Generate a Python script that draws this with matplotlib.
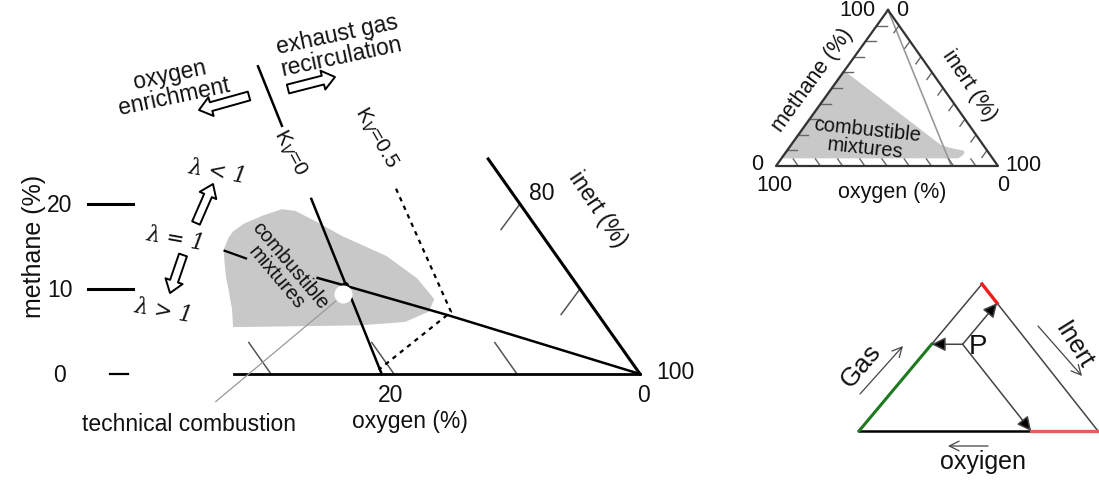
import numpy as np
import matplotlib
matplotlib.use('Agg')
import matplotlib.pyplot as plt
from matplotlib.patches import Polygon, FancyArrowPatch

plt.rcParams['font.family'] = ['Liberation Sans', 'DejaVu Sans']

# ---------------- data: main diagram (methane %, oxygen %) ----------------
methane_ticks = [0, 10, 20]
oxygen_ticks = [10, 20, 30]
inert_tick_methane = [10, 20]          # inert = 90 %, 80 %
oxygen_axis_max = 33.0
inert_axis_methane_max = 25.3
air_o2 = 21.0                          # K_V = 0 line: O2 share of (O2+inert)
kv0_lower_methane = [0.0, 20.6]
kv0_upper_methane = [29.2, 36.2]
kv05_methane = [21.8, 7.3, 0.5]
kv05_oxygen = [9.2, 11.8, 21.0]
lambda1_methane = [0.0, 6.9, 10.5, 11.3]
lambda1_oxygen = [0.0, 12.2, 19.1, 20.7]
lambda1_dash_methane = [13.6, 14.5]
lambda1_dash_oxygen = [25.4, 26.7]
comb_methane = [14.7, 16.0, 16.7, 17.6, 18.6, 19.3, 19.1, 17.8, 16.2, 13.8, 11.2,
                8.8, 7.4, 6.2, 5.8, 5.6, 7.6, 9.8, 11.5, 13.4]
comb_oxygen = [26.6, 25.6, 24.9, 23.6, 21.5, 19.7, 18.7, 17.6, 16.4, 13.9, 12.7,
               12.5, 13.6, 16.1, 20.0, 30.3, 29.4, 28.6, 28.0, 27.2]
kv0_point = (10.5, 18.9)
technical_point = (9.4, 19.6)

# ---------------- data: inset 1 (methane %, oxygen %) ----------------
inset_ticks = [10, 20, 30, 40, 50, 60, 70, 80, 90]
inset_comb_methane = [60.3, 5.8, 5.8, 7.5, 9.0, 11.0, 12.8, 60.3]
inset_comb_oxygen = [39.7, 94.2, 15.2, 12.5, 11.3, 17.0, 19.8, 39.7]
inset_air_line_methane = [100, 0]
inset_air_line_oxygen = [0, 21]

# ---------------- data: inset 2 (gas %, oxygen %, inert %) ----------------
P_gas, P_oxygen, P_inert = 59, 28, 13

# ---------------- geometry helpers (layout) ----------------
def main_xy(m, o):
    m = np.asarray(m, float)
    o = np.asarray(o, float)
    return 640 - 12.3 * o - 6.0 * m, 375 - 8.5 * m

T1, L1, R1 = np.array([888, 11.]), np.array([776, 167.]), np.array([998, 167.])
def ins1_xy(m, o):
    m = np.asarray(m, float); o = np.asarray(o, float); i = 100 - m - o
    x = (m * T1[0] + o * L1[0] + i * R1[0]) / 100
    y = (m * T1[1] + o * L1[1] + i * R1[1]) / 100
    return x, y

T2, L2, R2 = np.array([982, 285.]), np.array([859, 432.]), np.array([1098, 432.])
def ins2_xy(g, o, i):
    x = (g * T2[0] + o * L2[0] + i * R2[0]) / 100
    y = (g * T2[1] + o * L2[1] + i * R2[1]) / 100
    return x, y

fig = plt.figure(figsize=(10.99, 4.81), dpi=100)
ax = fig.add_axes([0, 0, 1, 1])
ax.set_xlim(0, 1099)
ax.set_ylim(481, 0)
ax.axis('off')

FS = 16.5
def txt(x, y, s, fs=FS, rot=0, **kw):
    ax.text(x, y, s, fontsize=fs, rotation=rot, ha=kw.pop('ha', 'center'),
            va=kw.pop('va', 'center'), rotation_mode='anchor', color='#111111', **kw)

GREY = '#c8c8c8'
# ---------------- main diagram ----------------
cx, cy = main_xy(comb_methane, comb_oxygen)
ax.add_patch(Polygon(np.column_stack([cx, cy]), closed=True, fc=GREY, ec=GREY,
                     lw=1, joinstyle='round', zorder=1))

# oxygen axis (methane = 0)
x, y = main_xy([0, 0], [0, oxygen_axis_max])
ax.plot(x, y, color='black', lw=2, zorder=3)
# inert axis (oxygen = 0)
x, y = main_xy([0, inert_axis_methane_max], [0, 0])
ax.plot(x, y, color='black', lw=2.2, zorder=3)
# oxygen ticks
for t in oxygen_ticks:
    x, y = main_xy([0, 3.7], [t, t])
    ax.plot(x, y, color='#555555', lw=1.1, zorder=2)
# inert ticks
for t in inert_tick_methane:
    x, y = main_xy([t, t - 3.0], [0, 3.0])
    ax.plot(x, y, color='#555555', lw=1.1, zorder=2)

# K_V = 0 line (air)
for seg in (kv0_lower_methane, kv0_upper_methane):
    m = np.array(seg)
    x, y = main_xy(m, air_o2 * (100 - m) / 100)
    ax.plot(x, y, color='black', lw=1.8, zorder=3)
# K_V = 0.5 dotted line
x, y = main_xy(kv05_methane, kv05_oxygen)
ax.plot(x, y, color='black', lw=1.6, ls=(0, (2, 2.2)), zorder=3)
# lambda = 1 line
x, y = main_xy(lambda1_methane, lambda1_oxygen)
ax.plot(x, y, color='black', lw=1.8, zorder=3)
x, y = main_xy(lambda1_dash_methane, lambda1_dash_oxygen)
ax.plot(x, y, color='black', lw=1.6, zorder=3)
# intersection dot
x, y = main_xy(*kv0_point)
ax.plot(x, y, 'o', color='black', ms=4, zorder=4)
# technical combustion point
tx, ty = main_xy(*technical_point)
ax.plot(tx, ty, 'o', mfc='white', mec='white', ms=12, zorder=5)
ax.annotate('technical combustion', xy=(tx - 2, ty + 3), xytext=(189, 425),
            fontsize=FS, ha='center', va='center', color='#111111',
            arrowprops=dict(arrowstyle='-', color='#999999', lw=0.9,
                            shrinkA=9, shrinkB=0), zorder=4)

# methane scale (left)
for t in methane_ticks:
    _, y = main_xy(t, 0)
    if t == 0:
        ax.plot([110, 128], [y, y], color='black', lw=1.6)
    else:
        ax.plot([88, 133], [y, y], color='black', lw=2.2)
    txt(60, y + 1, str(t))
txt(34, 246, 'methane (%)', fs=18, rot=90)

# axis labels / numbers
txt(391, 396, '20')
txt(410, 422, 'oxygen (%)')
txt(643, 396, '0')
txt(675, 373, '100')
txt(542, 194, '80')
txt(598, 209, 'inert (%)', rot=-56)

txt(290, 153, r'K$_V$=0', fs=15, rot=-62)
txt(376, 138, r'K$_V$=0.5', fs=15, rot=-60)
txt(283, 272, 'combustible\nmixtures', fs=14.5, rot=-50, linespacing=0.95)

txt(172, 86, 'oxygen\nenrichment', rot=12, linespacing=0.95)
txt(339, 46, 'exhaust gas\nrecirculation', rot=12, linespacing=0.95)

lam_kw = dict(fs=15.5, style='italic', family=['DejaVu Serif'])
txt(218, 172, 'λ < 1', rot=-10, **lam_kw)
txt(176, 239, 'λ = 1', rot=-10, **lam_kw)
txt(164, 311, 'λ > 1', rot=-10, **lam_kw)

def hollow(p0, p1, hl=8, hw=12, tw=5.5):
    ax.add_patch(FancyArrowPatch(p0, p1, arrowstyle=f'simple,head_length={hl},head_width={hw},tail_width={tw}',
                                 mutation_scale=1, fc='white', ec='black', lw=1.4,
                                 shrinkA=0, shrinkB=0, zorder=4))
hollow((196, 224), (213, 185), hl=9, hw=13, tw=6)
hollow((183, 256), (170, 294), hl=9, hw=13, tw=6)
hollow((249, 97), (199, 111), hl=9, hw=14, tw=6.5)
hollow((288, 90), (335, 78), hl=9, hw=14, tw=6.5)

# ---------------- inset 1 ----------------
ix, iy = ins1_xy(inset_comb_methane, inset_comb_oxygen)
ax.add_patch(Polygon(np.column_stack([ix, iy]), closed=True, fc=GREY, ec=GREY,
                     lw=2, joinstyle='round', zorder=1))
tri = np.array([T1, L1, R1, T1])
ax.plot(tri[:, 0], tri[:, 1], color='#333333', lw=1.6, zorder=3)
x, y = ins1_xy(inset_air_line_methane, inset_air_line_oxygen)
ax.plot(x, y, color='#999999', lw=1.2, zorder=2)
tl = 4.5
for t in inset_ticks:
    # methane ticks on left edge (inert = 0), along constant methane
    x, y = ins1_xy([t, t], [100 - t, 100 - t - tl])
    ax.plot(x, y, color='#666666', lw=1, zorder=2)
    # oxygen ticks on bottom edge (methane = 0), along constant oxygen
    x, y = ins1_xy([0, tl], [t, t])
    ax.plot(x, y, color='#666666', lw=1, zorder=2)
    # inert ticks on right edge (oxygen = 0), along constant inert
    x, y = ins1_xy([100 - t, 100 - t - tl], [0, tl])
    ax.plot(x, y, color='#666666', lw=1, zorder=2)
IFS = 15.5
txt(857, 10, '100', fs=IFS)
txt(902, 10, '0', fs=IFS)
txt(757, 165, '0', fs=IFS)
txt(774, 186, '100', fs=IFS)
txt(1023, 166, '100', fs=IFS)
txt(1003, 186, '0', fs=IFS)
txt(892, 193, 'oxygen (%)', fs=IFS)
txt(813, 80, 'methane (%)', fs=IFS, rot=54)
txt(969, 86, 'inert (%)', fs=IFS, rot=-56)
txt(866, 139, 'combustible\nmixtures', fs=14.5, rot=-6, linespacing=0.95)

# ---------------- inset 2 ----------------
EDGE = '#444444'
ax.plot([L2[0], T2[0], R2[0]], [L2[1], T2[1], R2[1]], color=EDGE, lw=1.1, zorder=2)
ax.plot([L2[0], R2[0]], [L2[1], R2[1]], color='black', lw=1.8, zorder=2)
P = ins2_xy(P_gas, P_oxygen, P_inert)
A_gas = ins2_xy(P_gas, 100 - P_gas, 0)
A_inert = ins2_xy(100 - P_inert, 0, P_inert)
A_oxy = ins2_xy(0, P_oxygen, 100 - P_oxygen)
x, y = zip(L2, A_gas)
ax.plot(x, y, color='#1f7a1f', lw=2.2, zorder=3)
x, y = zip(T2, A_inert)
ax.plot(x, y, color='#ee1c1c', lw=2.4, zorder=3)
x, y = zip(A_oxy, R2)
ax.plot(x, y, color='#de5f5f', lw=2.4, zorder=3)
for tgt in (A_gas, A_inert, A_oxy):
    ax.annotate('', xy=tgt, xytext=P,
                arrowprops=dict(arrowstyle='-|>,head_length=0.6,head_width=0.3',
                                color=EDGE, fc='black', lw=1.1, mutation_scale=14,
                                shrinkA=0, shrinkB=0), zorder=4)
txt(P[0] + 15, P[1] + 2, 'P', fs=20)
txt(861, 366, 'Gas', fs=19, rot=50)
txt(1074, 345, 'Inert', fs=18, rot=-58)
txt(983, 462, 'oxyigen', fs=18)
for p0, p1 in (((860, 395), (903, 347)), ((1038, 327), (1082, 377)), ((988, 447), (948, 447))):
    ax.annotate('', xy=p1, xytext=p0,
                arrowprops=dict(arrowstyle='->,head_length=0.5,head_width=0.25',
                                color='#444444', lw=0.9, mutation_scale=14,
                                shrinkA=0, shrinkB=0))

fig.savefig('out.png', dpi=100, facecolor='white')
